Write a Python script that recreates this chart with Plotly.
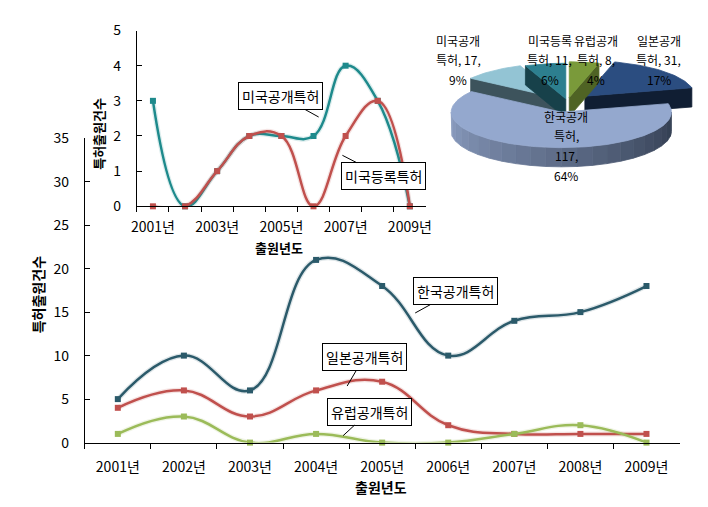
import math
import plotly.graph_objects as go

W, H = 708, 507

# ---------------- data ----------------
years = ['2001년', '2002년', '2003년', '2004년', '2005년', '2006년', '2007년', '2008년', '2009년']
inset_ticktext = ['2001년', '', '2003년', '', '2005년', '', '2007년', '', '2009년']

kr_pub = [5, 10, 6, 21, 18, 10, 14, 15, 18]   # 한국공개특허
jp_pub = [4, 6, 3, 6, 7, 2, 1, 1, 1]          # 일본공개특허
eu_pub = [1, 3, 0, 1, 0, 0, 1, 2, 0]          # 유럽공개특허
us_pub = [3, 0, 1, 2, 2, 2, 4, 3, 0]          # 미국공개특허
us_reg = [0, 0, 1, 2, 2, 0, 2, 3, 0]          # 미국등록특허

main_yticks = [0, 5, 10, 15, 20, 25, 30, 35]
inset_yticks = [0, 1, 2, 3, 4, 5]

# pie (clockwise from 12 o'clock)
pie_names = ['유럽공개특허', '일본공개특허', '한국공개특허', '미국공개특허', '미국등록특허']
pie_values = [8, 31, 117, 17, 11]

# ---------------- styles / layout constants ----------------
FONT = 'Noto Sans CJK KR, Malgun Gothic, sans-serif'
C_KR = '#2B5A6A'
C_JP = '#C0504D'
C_EU = '#9BBB59'
C_USP = '#1E8A8C'
C_USR = '#C0504D'
SMOOTH = 1.2

pie_top_colors = ['#7A9A3A', '#2B4D80', '#94A8CE', '#93C4D4', '#2D7F8F']
pie_side_colors = ['#4F6324', '#101E33', '#5E6F90', '#3D535C', '#17414A']
pie_pulls = [0.12, 0.22, 0.30, 0.10, 0.08]
pie_label_pos = [(592, 22), (656, 22), (562, 101), (452, 22), (545, 22)]
pie_label_split_wide = [True, True, False, True, True]
PIE_CX, PIE_CY, PIE_RX, PIE_RY, PIE_DEPTH = 563, 86, 112, 37, 20
PIE_LINE = 20.5


def fx(px):
    return px / W


def fy(py):
    return 1 - py / H


fig = go.Figure()

# ---------------- main chart ----------------
for vals, col in [(kr_pub, C_KR), (jp_pub, C_JP), (eu_pub, C_EU)]:
    fig.add_trace(go.Scatter(
        x=years, y=vals, xaxis='x', yaxis='y', mode='lines',
        line=dict(color=col, width=5, shape='spline', smoothing=SMOOTH),
        opacity=0.15, hoverinfo='skip', showlegend=False))
    fig.add_trace(go.Scatter(
        x=years, y=vals, xaxis='x', yaxis='y', mode='lines+markers',
        line=dict(color=col, width=2.5, shape='spline', smoothing=SMOOTH),
        marker=dict(symbol='square', size=6, color=col),
        cliponaxis=False, showlegend=False))

# ---------------- inset chart ----------------
for vals, col in [(us_pub, C_USP), (us_reg, C_USR)]:
    fig.add_trace(go.Scatter(
        x=years, y=vals, xaxis='x2', yaxis='y2', mode='lines',
        line=dict(color=col, width=5, shape='spline', smoothing=SMOOTH),
        opacity=0.15, hoverinfo='skip', showlegend=False))
    fig.add_trace(go.Scatter(
        x=years, y=vals, xaxis='x2', yaxis='y2', mode='lines+markers',
        line=dict(color=col, width=2.5, shape='spline', smoothing=SMOOTH),
        marker=dict(symbol='square', size=6, color=col),
        cliponaxis=False, showlegend=False))

# ---------------- 3D-look pie ----------------
def hex2rgb(h):
    h = h.lstrip('#')
    return tuple(int(h[i:i + 2], 16) for i in (0, 2, 4))


def mix(c1, c2, t):
    a, b = hex2rgb(c1), hex2rgb(c2)
    return '#%02x%02x%02x' % tuple(int(round(a[i] + (b[i] - a[i]) * t)) for i in range(3))


def ept(cx, cy, th, dy=0.0):
    r = math.radians(th)
    return cx + PIE_RX * math.sin(r), cy - PIE_RY * math.cos(r) + dy


def arc(cx, cy, a0, a1, dy=0.0):
    n = max(2, int(abs(a1 - a0) / 1.5) + 1)
    return [ept(cx, cy, a0 + (a1 - a0) * i / (n - 1), dy) for i in range(n)]


def poly(pts, color):
    fig.add_trace(go.Scatter(
        x=[p[0] for p in pts] + [pts[0][0]], y=[p[1] for p in pts] + [pts[0][1]],
        xaxis='x3', yaxis='y3', mode='lines', fill='toself', fillcolor=color,
        line=dict(color=color, width=0.8), hoverinfo='skip', showlegend=False))


total = sum(pie_values)
slices = []
a = 0.0
for i, v in enumerate(pie_values):
    a0, a1 = a, a + 360.0 * v / total
    a = a1
    mid = math.radians((a0 + a1) / 2)
    p = pie_pulls[i]
    cx = PIE_CX + PIE_RX * p * math.sin(mid)
    cy = PIE_CY - PIE_RY * p * math.cos(mid)
    slices.append((cy, i, cx, a0, a1))

for cy, i, cx, a0, a1 in sorted(slices):
    side = pie_side_colors[i]
    for ang, nrm in [(a0, a0 - 90), (a1, a1 + 90)]:
        if math.cos(math.radians(nrm)) < -0.02:
            px_, py_ = ept(cx, cy, ang)
            poly([(cx, cy), (px_, py_), (px_, py_ + PIE_DEPTH), (cx, cy + PIE_DEPTH)], side)
    w0, w1 = max(a0, 90.0), min(a1, 270.0)
    if w1 > w0:
        nseg = max(1, int((w1 - w0) / 8))
        for k in range(nseg):
            s0 = w0 + (w1 - w0) * k / nseg
            s1 = w0 + (w1 - w0) * (k + 1) / nseg
            t = ((s0 + s1) / 2 - 90) / 180
            col = mix('#2F3A4D', '#8C9EC2', t) if i == 2 else side
            top = arc(cx, cy, s0, s1)
            bot = arc(cx, cy, s0, s1, PIE_DEPTH)
            poly(top + bot[::-1], col)
    poly([(cx, cy)] + arc(cx, cy, a0, a1), pie_top_colors[i])

annotations = []
for i, (name, v) in enumerate(zip(pie_names, pie_values)):
    pct = '%d%%' % round(100.0 * v / total)
    if pie_label_split_wide[i]:
        lines = [name[:4], '%s, %d,' % (name[4:], v), pct]
    else:
        lines = [name[:4], name[4:] + ',', '%d,' % v, pct]
    lx, ly = pie_label_pos[i]
    for k, ln in enumerate(lines):
        annotations.append(dict(
            x=lx, y=ly + k * PIE_LINE, xref='x3', yref='y3', text=ln, showarrow=False,
            font=dict(family=FONT, size=12, color='black'), xanchor='center', yanchor='middle'))

# ---------------- callouts ----------------
def callout(text, x, y, ax, ay, xr, yr):
    return dict(x=x, y=y, xref=xr, yref=yr, ax=ax, ay=ay, text=text, showarrow=True,
                arrowhead=0, arrowwidth=1, arrowcolor='black', standoff=0,
                bordercolor='black', borderwidth=1, borderpad=3, bgcolor='white',
                font=dict(family=FONT, size=14, color='black'))


annotations += [
    callout('한국공개특허', 4.5, 14.9, 40, -22, 'x', 'y'),
    callout('일본공개특허', 3.47, 6.5, 17, -29, 'x', 'y'),
    callout('유럽공개특허', 3.41, 0.8, 26, -24, 'x', 'y'),
    callout('미국공개특허', 5.16, 2.54, -38, -21, 'x2', 'y2'),
    callout('미국등록특허', 5.9, 1.45, 41, 21, 'x2', 'y2'),
]


def title(text, px, py, size, angle=0):
    return dict(x=fx(px), y=fy(py), xref='paper', yref='paper', text='<b>%s</b>' % text,
                showarrow=False, textangle=angle, xanchor='center', yanchor='middle',
                font=dict(family=FONT, size=size, color='black'))


annotations += [
    title('특허출원건수', 24, 287, 14, -90),
    title('출원년도', 373, 487, 14),
    title('특허출원건수', 86, 120, 13, -90),
    title('출원년도', 270, 238, 13),
]

tickfont = dict(family=FONT, size=14, color='black')
fig.update_layout(
    width=W, height=H, autosize=False,
    margin=dict(l=0, r=0, t=0, b=0),
    paper_bgcolor='white', plot_bgcolor='rgba(0,0,0,0)',
    showlegend=False,
    xaxis=dict(domain=[fx(72), fx(677)], anchor='y', type='category', categoryorder='array',
               categoryarray=years, range=[-0.5, 8.5], showline=True, linecolor='black',
               linewidth=1, ticks='outside', tickson='boundaries', ticklen=5, tickcolor='black',
               tickfont=tickfont, tickangle=0, showgrid=False, zeroline=False,
               ticklabelstandoff=12),
    yaxis=dict(domain=[fy(441), fy(124)], anchor='x', range=[0, 35], tickvals=main_yticks,
               showline=True, linecolor='black', linewidth=1, ticks='inside', ticklen=5,
               tickcolor='black', tickfont=tickfont, showgrid=False, zeroline=False,
               ticklabelstandoff=12),
    xaxis2=dict(domain=[fx(125), fx(419)], anchor='y2', type='category', categoryorder='array',
                categoryarray=years, range=[-0.5, 8.5], tickvals=years, ticktext=inset_ticktext,
                showline=True, linecolor='black', linewidth=1, ticks='outside',
                tickson='boundaries', ticklen=5, tickcolor='black', tickfont=tickfont,
                tickangle=0, showgrid=False, zeroline=False, ticklabelstandoff=8),
    yaxis2=dict(domain=[fy(195), fy(12)], anchor='x2', range=[0, 5], tickvals=inset_yticks,
                showline=True, linecolor='black', linewidth=1, ticks='inside', ticklen=5,
                tickcolor='black', tickfont=tickfont, showgrid=False, zeroline=False,
                ticklabelstandoff=12),
    xaxis3=dict(domain=[fx(420), 1.0], anchor='y3', range=[420, 708], visible=False),
    yaxis3=dict(domain=[fy(200), 1.0], anchor='x3', range=[200, 0], visible=False),
    annotations=annotations,
)

fig.write_html('out.html')
